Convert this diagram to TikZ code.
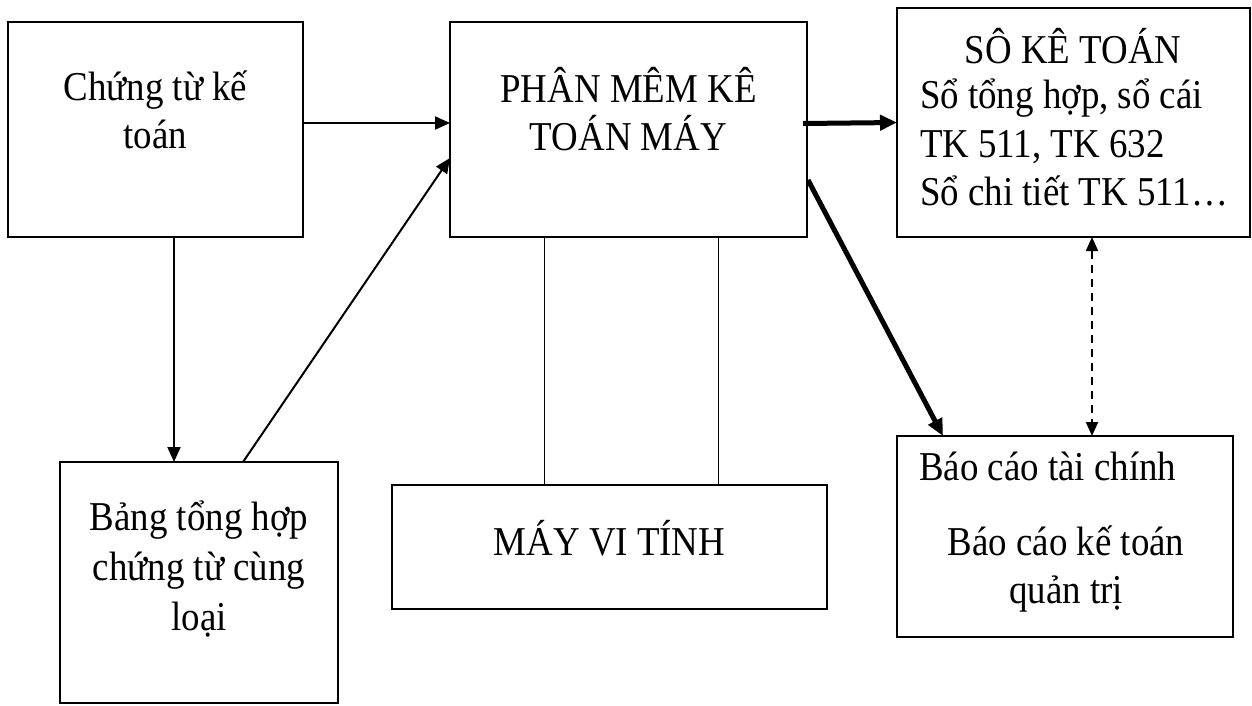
\documentclass[tikz,border=0pt]{standalone}
\usepackage{fontspec}
\setmainfont{Liberation Serif}[FakeStretch=0.9]
\usetikzlibrary{arrows.meta}
\begin{document}
\begin{tikzpicture}[x=1pt,y=-1pt,
  box/.style={draw,line width=2.2pt,inner sep=0pt,outer sep=0pt,anchor=north west},
  txt/.style={inner sep=0pt,outer sep=0pt,font=\fontsize{41}{48}\selectfont},
  arr/.style={line width=2pt,-{Triangle[length=15pt,width=13pt]}},
  thickarr/.style={line width=5pt,-{Triangle[length=17pt,width=15pt]}},
  dasharr/.style={line width=2pt,dash pattern=on 8pt off 6pt,{Triangle[length=14pt,width=12pt]}-{Triangle[length=14pt,width=12pt]}},
  link/.style={line width=1pt}]
\useasboundingbox (0,0) rectangle (1252,705);

% boxes
\node[box,minimum width=295pt,minimum height=215pt] (ctkt) at (8,22) {};
\node[box,minimum width=357pt,minimum height=215pt] (pm) at (450,22) {};
\node[box,minimum width=353pt,minimum height=229pt] (sokt) at (897,8) {};
\node[box,minimum width=336pt,minimum height=201pt] (bc) at (897,436) {};
\node[box,minimum width=278pt,minimum height=241pt] (bth) at (60,462) {};
\node[box,minimum width=435pt,minimum height=124pt] (mvt) at (392,485) {};

% labels
\node[txt,anchor=base] (t1) at (155.5,100) {Chứng từ kế};
\node[txt,anchor=base] (t2) at (155.5,148) {toán};
\node[txt,anchor=base] (t3) at (628.5,102) {PHÂN MÊM KÊ};
\node[txt,anchor=base] (t4) at (628.5,150) {TOÁN MÁY};
\node[txt,anchor=base] (t5) at (1073,63) {SÔ KÊ TOÁN};
\node[txt,anchor=base west] (t6) at (920,108) {Sổ tổng hợp, sổ cái};
\node[txt,anchor=base west] (t7) at (920,157) {TK 511, TK 632};
\node[txt,anchor=base west] (t8) at (920,205) {Sổ chi tiết TK 511…};
\node[txt,anchor=base west] (t9) at (919,480) {Báo cáo tài chính};
\node[txt,anchor=base] (t10) at (1066,555) {Báo cáo kế toán};
\node[txt,anchor=base] (t11) at (1066,603) {quản trị};
\node[txt,anchor=base] (t12) at (199,530) {Bảng tổng hợp};
\node[txt,anchor=base] (t13) at (199,580) {chứng từ cùng};
\node[txt,anchor=base] (t14) at (199,630) {loại};
\node[txt,anchor=base] (t15) at (609.5,555) {MÁY VI TÍNH};

% connectors
\draw[arr] ([yshift=6.5pt]ctkt.east) -- ([yshift=6.5pt]pm.west);
\draw[arr] ([xshift=18.5pt]ctkt.south) -- ([xshift=-25pt]bth.north);
\draw[arr] ([xshift=44pt]bth.north) -- ([yshift=-28.5pt]pm.west);
\draw[thickarr] ([yshift=6pt,xshift=-4pt]pm.east) -- ([yshift=0pt]sokt.west);
\draw[thickarr] ([yshift=-50.5pt,xshift=1pt]pm.east) -- ([xshift=-122pt]bc.north);
\draw[dasharr] ([xshift=18.5pt]sokt.south) -- ([xshift=27pt]bc.north);
\draw[link] ([xshift=-84.5pt]pm.south) -- ([xshift=-65.5pt]mvt.north);
\draw[link] ([xshift=89.5pt]pm.south) -- ([xshift=108.5pt]mvt.north);
\end{tikzpicture}
\end{document}
